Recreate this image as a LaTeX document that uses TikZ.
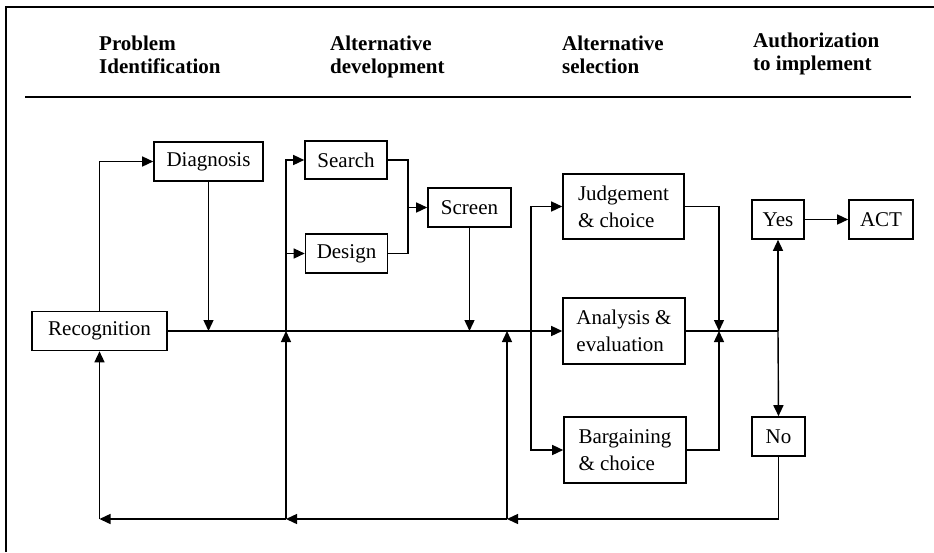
\documentclass[tikz,border=0pt]{standalone}
\usepackage{fontspec}
\setmainfont{Liberation Serif}
\usetikzlibrary{arrows.meta}
\begin{document}
\begin{tikzpicture}[x=1pt,y=-1pt,
  box/.style={draw,line width=1.6pt,inner sep=0pt,font=\fontsize{21}{27}\selectfont,align=left},
  hdr/.style={anchor=north west,inner sep=0pt,align=left,font=\fontsize{21}{23}\selectfont\bfseries},
  conn/.style={line width=1.4pt},
  arr/.style={conn,-{Triangle[length=11pt,width=10pt]}}]
\useasboundingbox (0,0) rectangle (934,552);
% frame and header rule
\draw[line width=2.4pt] (6,552) -- (6,7) -- (934,7);
\draw[line width=2.2pt] (25,97) -- (911,97);
% headers
\node[hdr] (h1) at (99,36) {Problem\\Identification};
\node[hdr] (h2) at (330,36) {Alternative\\development};
\node[hdr] (h3) at (562,36) {Alternative\\selection};
\node[hdr] (h4) at (753,33) {Authorization\\to implement};
% boxes
\node[box,minimum width=135pt,minimum height=39pt] (rec) at (99.5,331) {Recognition};
\node[box,minimum width=109pt,minimum height=39pt] (diag) at (208.5,161.5) {Diagnosis};
\node[box,minimum width=82pt,minimum height=38pt] (search) at (346,160) {Search};
\node[box,minimum width=82pt,minimum height=39pt] (design) at (346.5,253.5) {Design};
\node[box,minimum width=83pt,minimum height=39pt] (screen) at (469.5,207.5) {Screen};
\node[box,minimum width=121pt,minimum height=65pt] (judge) at (623.5,206.5) {Judgement\\\& choice};
\node[box,minimum width=122pt,minimum height=66pt] (anal) at (624,331) {Analysis \&\\evaluation};
\node[box,minimum width=122pt,minimum height=66pt] (barg) at (625,450) {Bargaining\\\& choice};
\node[box,minimum width=52pt,minimum height=39pt] (yes) at (778,219.5) {Yes};
\node[box,minimum width=64pt,minimum height=39pt] (act) at (881,219.5) {ACT};
\node[box,minimum width=53pt,minimum height=39pt] (no) at (778.5,436.5) {No};
% coordinates
\coordinate (bot) at (0,519);
\coordinate (v1) at (286,331);
\coordinate (v2) at (507,331);
\coordinate (sp) at (531,331);
\coordinate (jn) at (719,331);
\coordinate (yn) at (778,331);
\coordinate (mg) at (408,207.5);
% connectors
\draw[arr] (rec.north) |- (diag.west);
\draw[arr] (diag.south) -- (diag.south |- rec.east);
\draw[arr] (rec.east) -- (anal.west);
\draw[arr] (v1 |- bot) -- (v1);
\draw[arr] (v1) |- (search.west);
\draw[arr] (v1 |- design.west) -- (design.west);
\draw[conn] (search.east) -| (mg) |- (design.east);
\draw[arr] (mg) -- (screen.west);
\draw[arr] (screen.south) -- (screen.south |- rec.east);
\draw[arr] (v2 |- bot) -- (v2);
\draw[arr] (sp) |- (judge.west);
\draw[arr] (sp) |- (barg.west);
\draw[arr] (judge.east) -| (jn);
\draw[arr] (barg.east) -| (jn);
\draw[conn] (anal.east) -- (yn);
\draw[arr] (yn) -- (yes.south);
\draw[arr] (yn) -- (no.north);
\draw[arr] (yes.east) -- (act.west);
\draw[arr] (no.south) |- (v2 |- bot);
\draw[arr] (v2 |- bot) -- (v1 |- bot);
\draw[arr] (v1 |- bot) -- (rec.south |- bot);
\draw[arr] (rec.south |- bot) -- (rec.south);
\end{tikzpicture}
\end{document}
